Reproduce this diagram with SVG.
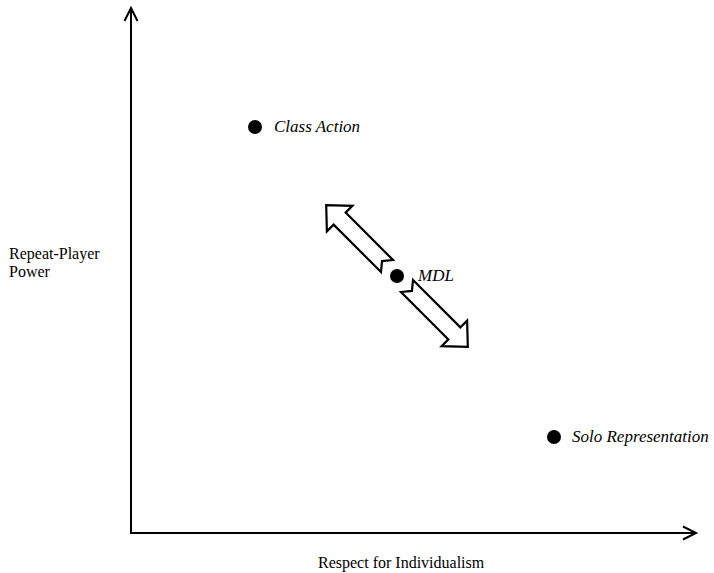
<svg xmlns="http://www.w3.org/2000/svg" width="714" height="573" viewBox="0 0 714 573">
<style>
.axis{stroke:#000;stroke-width:2;fill:none}
.head{stroke:#000;stroke-width:2;fill:none;stroke-linejoin:miter}
.lbl{font-family:"Liberation Serif","Times New Roman",serif;font-size:16px;fill:#000}
.it{font-family:"Liberation Serif","Times New Roman",serif;font-size:17px;font-style:italic;fill:#000}
.dot{fill:#000}
.block{fill:#fff;stroke:#000;stroke-width:2.2;stroke-linejoin:miter}
</style>
<defs>
<path id="blk" d="M0,-8.5 L67,-8.5 L67,-18 L86,0 L67,18 L67,8.5 L0,8.5 L7,0 Z"/>
</defs>
<rect width="714" height="573" fill="#fff"/>
<g id="connectors">
<g id="y-axis">
<line class="axis" x1="131" y1="534" x2="131" y2="8"/>
<polyline class="head" points="124.5,21 131,8 137.5,21"/>
</g>
<g id="x-axis">
<line class="axis" x1="130" y1="533" x2="696" y2="533"/>
<polyline class="head" points="683,526.5 696,533 683,539.5"/>
</g>
<g id="mdl-arrows">
<use href="#blk" class="block" transform="translate(387,266) rotate(-135)"/>
<use href="#blk" class="block" transform="translate(407,286) rotate(45)"/>
</g>
</g>
<g id="class-action">
<circle class="dot" cx="255" cy="127" r="7"/>
<text class="it" x="274" y="132">Class Action</text>
</g>
<g id="mdl">
<circle class="dot" cx="397" cy="276" r="7"/>
<text class="it" x="418" y="281">MDL</text>
</g>
<g id="solo">
<circle class="dot" cx="554" cy="437" r="7"/>
<text class="it" x="572" y="442">Solo Representation</text>
</g>
<g id="y-label">
<text class="lbl" x="9" y="259">Repeat-Player</text>
<text class="lbl" x="9" y="277">Power</text>
</g>
<g id="x-label">
<text class="lbl" x="318" y="568">Respect for Individualism</text>
</g>
</svg>
